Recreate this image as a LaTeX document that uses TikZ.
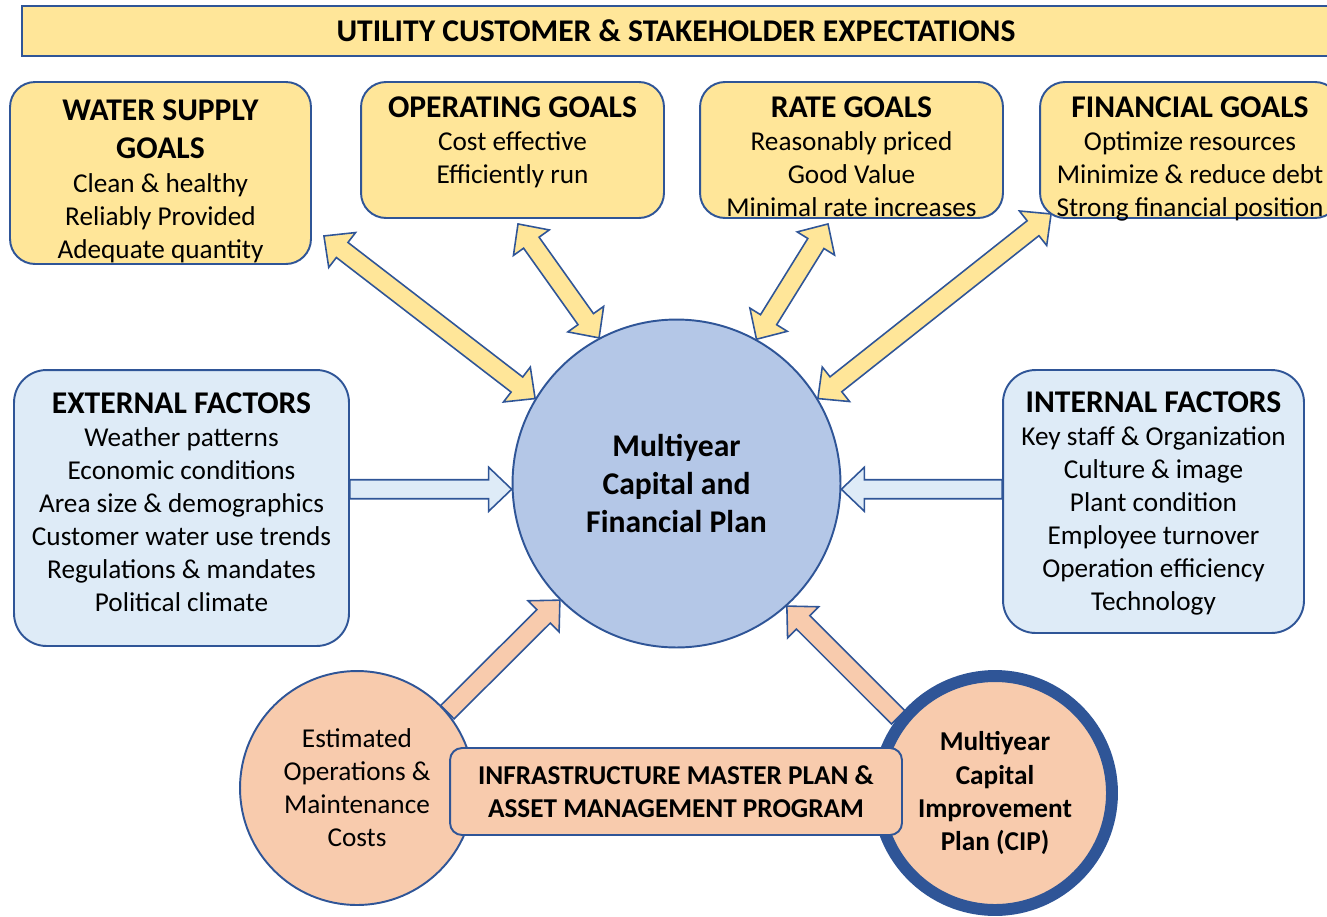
\documentclass[tikz,border=0pt]{standalone}
\usepackage{fontspec}
\setmainfont{Carlito}
\usetikzlibrary{calc,positioning,backgrounds}

\definecolor{edgeblue}{HTML}{2F5597}
\definecolor{goalfill}{HTML}{FFE699}
\definecolor{factorfill}{HTML}{DEEBF7}
\definecolor{planfill}{HTML}{B4C7E7}
\definecolor{costfill}{HTML}{F8CBAD}

\newcommand{\bodyfont}{\fontsize{15.5}{18.8}\selectfont}
\newcommand{\headfont}{\fontsize{18}{21.6}\selectfont\bfseries}

% block arrows between two points
\newcommand{\arrshaft}{0.19cm}
\newcommand{\arrhead}{0.44cm}
\newcommand{\arrlen}{0.46cm}
\newcommand{\blockarrow}[3]{%
  \coordinate (ba-h) at ($(#3)!\arrlen!(#2)$);
  \draw[#1] ($(#2)!\arrshaft!90:(#3)$) -- ($(ba-h)!\arrshaft!-90:(#2)$)
    -- ($(ba-h)!\arrhead!-90:(#2)$) -- (#3)
    -- ($(ba-h)!\arrhead!90:(#2)$) -- ($(ba-h)!\arrshaft!90:(#2)$)
    -- ($(#2)!\arrshaft!-90:(#3)$) -- cycle;
}
\newcommand{\dblockarrow}[3]{%
  \coordinate (ba-a) at ($(#2)!\arrlen!(#3)$);
  \coordinate (ba-b) at ($(#3)!\arrlen!(#2)$);
  \draw[#1] (#2) -- ($(ba-a)!\arrhead!90:(#3)$) -- ($(ba-a)!\arrshaft!90:(#3)$)
    -- ($(ba-b)!\arrshaft!-90:(#2)$) -- ($(ba-b)!\arrhead!-90:(#2)$) -- (#3)
    -- ($(ba-b)!\arrhead!90:(#2)$) -- ($(ba-b)!\arrshaft!90:(#2)$)
    -- ($(ba-a)!\arrshaft!-90:(#3)$) -- ($(ba-a)!\arrhead!-90:(#3)$) -- cycle;
}

\tikzset{
  banner/.style={draw=edgeblue, line width=1.1pt, fill=goalfill,
    minimum width=26.16cm, minimum height=1cm, font=\headfont},
  goalbox/.style={draw=edgeblue, line width=1.1pt, fill=goalfill, rounded corners=0.5cm},
  factorbox/.style={draw=edgeblue, line width=1.1pt, fill=factorfill, rounded corners=0.65cm},
  boxtext/.style={inner sep=0pt, align=center, font=\bodyfont},
  planball/.style={circle, draw=edgeblue, line width=1.1pt, fill=planfill, minimum size=6.56cm,
    align=center, font=\fontsize{18}{21.9}\selectfont\bfseries},
  costball/.style={circle, draw=edgeblue, line width=1.1pt, fill=costfill, minimum size=4.68cm,
    align=center, font=\bodyfont},
  cipball/.style={costball, line width=6.8pt, font=\bodyfont\bfseries},
  program/.style={draw=edgeblue, line width=1.1pt, fill=costfill, rounded corners=0.24cm,
    minimum width=9.04cm, minimum height=1.74cm, align=center, font=\bodyfont\bfseries},
  goalarrow/.style={draw=edgeblue, line width=0.9pt, fill=goalfill},
  factorarrow/.style={draw=edgeblue, line width=0.9pt, fill=factorfill},
  costarrow/.style={draw=edgeblue, line width=0.9pt, fill=costfill}
}

\begin{document}
\begin{tikzpicture}[x=0.02cm, y=-0.02cm]
  \useasboundingbox (0,0) rectangle (1327,916);

  \node[banner] (expect) at (676,31) {UTILITY CUSTOMER \& STAKEHOLDER EXPECTATIONS};

  % goals
  \node[goalbox, minimum width=6.02cm, minimum height=3.64cm] (ws) at (160.5,173) {};
  \node[boxtext, below=0.36cm of ws.north] (ws-text)
    {{\headfont WATER SUPPLY}\\[2.8pt]{\headfont GOALS}\\[0.8pt]Clean \& healthy\\
     Reliably Provided\\Adequate quantity};
  \node[goalbox, minimum width=6.06cm, minimum height=2.72cm] (op) at (512.5,150) {};
  \node[boxtext, below=0.3cm of op.north] (op-text)
    {{\headfont OPERATING GOALS}\\Cost effective\\Efficiently run};
  \node[goalbox, minimum width=6.06cm, minimum height=2.72cm] (rate) at (851.5,150) {};
  \node[boxtext, below=0.3cm of rate.north] (rate-text)
    {{\headfont RATE GOALS}\\Reasonably priced\\Good Value\\Minimal rate increases};
  \node[goalbox, minimum width=6cm, minimum height=2.72cm] (fin) at (1190,150) {};
  \node[boxtext, below=0.3cm of fin.north] (fin-text)
    {{\headfont FINANCIAL GOALS}\\Optimize resources\\Minimize \& reduce debt\\Strong financial position};

  % factors
  \node[factorbox, minimum width=6.7cm, minimum height=5.52cm] (ext) at (181.5,508) {};
  \node[boxtext, below=0.46cm of ext.north] (ext-text)
    {{\headfont EXTERNAL FACTORS}\\Weather patterns\\Economic conditions\\Area size \& demographics\\
     Customer water use trends\\Regulations \& mandates\\Political climate};
  \node[factorbox, minimum width=6.02cm, minimum height=5.26cm] (int) at (1153.5,501.5) {};
  \node[boxtext, below=0.44cm of int.north] (int-text)
    {{\headfont INTERNAL FACTORS}\\Key staff \& Organization\\Culture \& image\\Plant condition\\
     Employee turnover\\Operation efficiency\\Technology};

  \node[planball] (plan) at (676.5,483.5) {Multiyear\\Capital and\\Financial Plan};

  % bottom
  \node[costball] (est) at (357,788) {Estimated\\Operations \&\\Maintenance\\Costs};
  \node[cipball] (cip) at (995,793) {Multiyear\\Capital\\Improvement\\Plan (CIP)};
  \node[program] (iamp) at (676,791.5) {INFRASTRUCTURE MASTER PLAN \&\\ASSET MANAGEMENT PROGRAM};

  % arrows
  \coordinate (ws-tip) at ($(ws.south east)+(12,-29)$);
  \coordinate (op-tip) at ($(op.south)+(5.5,5)$);
  \coordinate (rate-tip) at ($(rate.south)+(-23.5,5)$);
  \coordinate (fin-tip) at ($(fin.south west)+(12,-5)$);
  \coordinate (ext-out) at (ext.east |- plan.182);
  \coordinate (int-out) at (int.west |- plan.358);
  \begin{scope}[on background layer]
    \dblockarrow{goalarrow}{ws-tip}{plan.149}
    \dblockarrow{goalarrow}{op-tip}{plan.118}
    \dblockarrow{goalarrow}{rate-tip}{plan.61}
    \dblockarrow{goalarrow}{fin-tip}{plan.31}
    \blockarrow{factorarrow}{ext-out}{plan.182}
    \blockarrow{factorarrow}{int-out}{plan.358}
    \blockarrow{costarrow}{est.40}{plan.225}
    \blockarrow{costarrow}{cip.142}{plan.312}
  \end{scope}
\end{tikzpicture}
\end{document}
